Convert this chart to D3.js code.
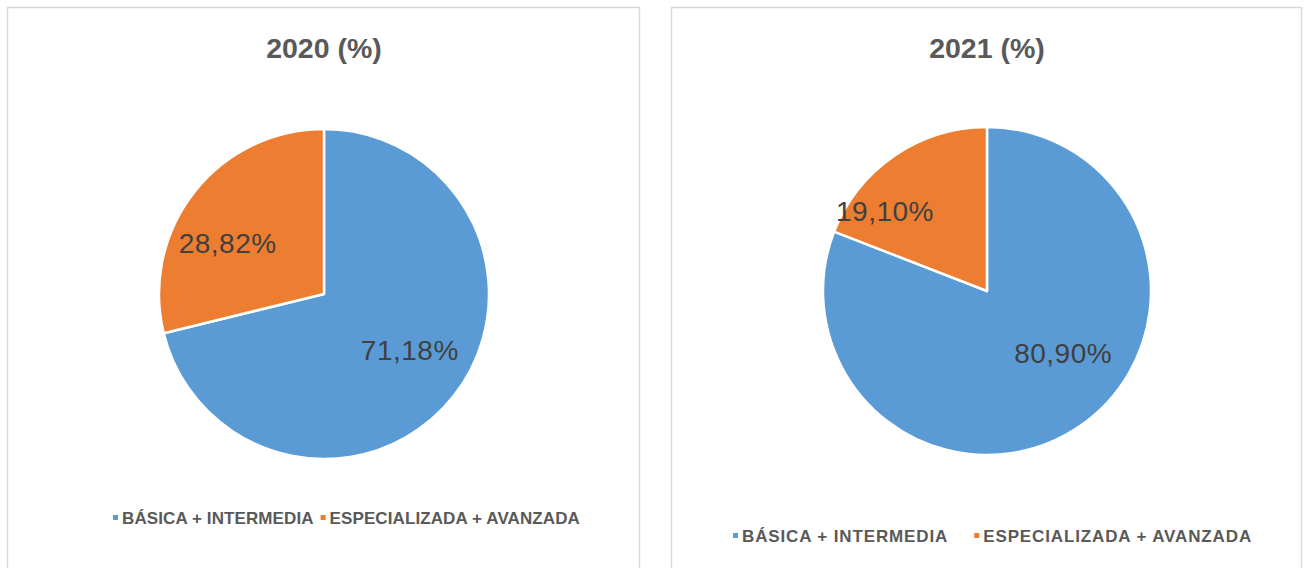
<!DOCTYPE html>
<html>
<head>
<meta charset="utf-8">
<script src="https://cdn.jsdelivr.net/npm/d3@7"></script>
<style>
  html, body { margin: 0; padding: 0; background: #ffffff; }
  svg { display: block; }
</style>
</head>
<body>
<svg id="chart" width="1309" height="568"></svg>
<script>
// ---- data ----
const categories = ["BÁSICA + INTERMEDIA", "ESPECIALIZADA + AVANZADA"];
const titles = ["2020 (%)", "2021 (%)"];
const values2020 = [71.18, 28.82];
const values2021 = [80.90, 19.10];
const colors = ["#5B9BD5", "#ED7D31"];

// ---- layout (positions / styles only) ----
const panels = [
  { values: values2020, title: titles[0], x0: 7, x1: 639, cx: 324, cy: 294, r: 165,
    legendX: 113, legendY: 524, legendGap: 7, legendSpacing: 0.1,
    labelPos: [{ f: 0.48, r: 0.62 }, { f: 0.40, r: 0.66 }] },
  { values: values2021, title: titles[1], x0: 671, x1: 1301, cx: 987, cy: 291, r: 164,
    legendX: 733, legendY: 542, legendGap: 26, legendSpacing: 0.87,
    labelPos: [{ f: 0.444, r: 0.60 }, { f: 0.245, r: 0.79 }] }
];

const locale = d3.formatLocale({ decimal: ",", thousands: ".", grouping: [3], currency: ["", "€"] });
const fmt = v => locale.format(".2f")(v) + "%";

const svg = d3.select("#chart");

panels.forEach(p => {
  const g = svg.append("g");
  // panel border
  g.append("rect")
    .attr("x", p.x0 + 0.5).attr("y", 7.5)
    .attr("width", p.x1 - p.x0).attr("height", 600)
    .attr("fill", "#ffffff").attr("stroke", "#D9D9D9").attr("stroke-width", 1.5);

  // title
  g.append("text")
    .attr("x", (p.x0 + p.x1) / 2 + 1).attr("y", 58)
    .attr("text-anchor", "middle")
    .attr("font-family", "'Liberation Sans', Arial, sans-serif")
    .attr("font-weight", "bold").attr("font-size", 28.5)
    .attr("fill", "#595959")
    .text(p.title);

  const pie = d3.pie().sort(null).value(d => d)(p.values);
  const arc = d3.arc().innerRadius(0).outerRadius(p.r);
  const pg = g.append("g").attr("transform", `translate(${p.cx},${p.cy})`);

  pg.selectAll("path").data(pie).join("path")
    .attr("d", arc)
    .attr("fill", (d, i) => colors[i])
    .attr("stroke", "#ffffff").attr("stroke-width", 2.5).attr("stroke-linejoin", "round");

  pg.selectAll("text").data(pie).join("text")
    .attr("transform", (d, i) => {
      const lp = p.labelPos[i];
      const a = d.startAngle + (d.endAngle - d.startAngle) * lp.f;
      const rr = p.r * lp.r;
      return `translate(${Math.sin(a) * rr},${-Math.cos(a) * rr})`;
    })
    .attr("text-anchor", "middle").attr("dy", "0.36em")
    .attr("font-family", "'Liberation Sans', Arial, sans-serif")
    .attr("font-size", 28).attr("letter-spacing", 0.5).attr("fill", "#404040")
    .text(d => fmt(d.data));

  // legend
  let lx = p.legendX;
  categories.forEach((c, i) => {
    g.append("rect")
      .attr("x", lx).attr("y", p.legendY - 9)
      .attr("width", 5).attr("height", 5)
      .attr("fill", colors[i]);
    const t = g.append("text")
      .attr("x", lx + 9).attr("y", p.legendY)
      .attr("font-family", "'Liberation Sans', Arial, sans-serif")
      .attr("font-weight", "bold").attr("font-size", 17)
      .attr("letter-spacing", p.legendSpacing)
      .attr("fill", "#595959")
      .text(c);
    const w = t.node().getComputedTextLength();
    lx = lx + 9 + w + p.legendGap;
  });
});
</script>
</body>
</html>
